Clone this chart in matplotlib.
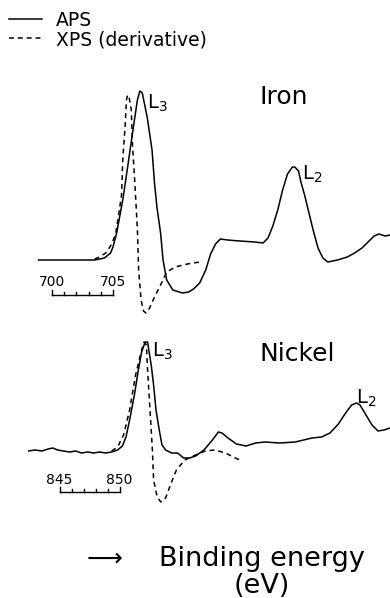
import matplotlib
matplotlib.use("Agg")
import matplotlib.pyplot as plt

# ---- Iron (energies in eV, intensity in arb. units, baseline = 0)
fe_aps_e = [698.9, 700.7, 702.3, 703.5, 704.3, 704.8, 705.0, 705.3, 705.8, 706.2,
            706.6, 707.0, 707.2, 707.4, 707.6, 707.8, 708.2, 708.4, 708.6, 708.9,
            709.1, 709.4, 709.9, 710.7, 711.2, 711.6, 712.1, 712.6, 713.0, 713.4,
            713.8, 714.4, 715.4, 716.6, 717.3, 717.7, 718.1, 718.5, 718.9, 719.3,
            719.7, 719.9, 720.2, 720.4, 720.7, 721.0, 721.4, 721.8, 722.2, 722.6,
            723.4, 724.2, 724.8, 725.4, 725.9, 726.4, 726.8, 727.3, 727.7]
fe_aps_i = [0, 0, 0, 0, 2, 7, 13, 27, 60, 93,
            127, 160, 169, 167, 155, 143, 110, 77, 53, 27,
            0, -20, -30, -33, -32, -29, -23, -10, 6, 16,
            21, 20, 19, 18, 17, 22, 34, 50, 70, 86,
            93, 93, 89, 78, 65, 50, 30, 12, 2, -2,
            0, 3, 7, 12, 18, 24, 26, 24, 25]

fe_xps_e = [703.5, 703.9, 704.4, 704.8, 705.2, 705.4, 705.7, 705.8, 706.0, 706.1,
            706.2, 706.3, 706.5, 706.6, 706.8, 707.0, 707.1, 707.3, 707.5, 707.7,
            708.0, 708.4, 708.9, 709.4, 710.1, 711.1, 712.1]
fe_xps_i = [1, 3, 7, 14, 25, 40, 65, 100, 135, 160,
            165, 164, 150, 115, 75, 30, -10, -40, -51, -53,
            -48, -37, -25, -12, -7, -4, -2]

# ---- Nickel
ni_aps_e = [842.4, 842.9, 843.5, 844.0, 844.4, 844.8, 845.3, 845.8, 846.3, 846.8,
            847.3, 847.8, 848.3, 848.8, 849.3, 849.8, 850.2, 850.5, 850.8, 851.2,
            851.5, 851.8, 852.1, 852.3, 852.4, 852.6, 852.8, 853.0, 853.3, 853.5,
            853.8, 854.3, 854.8, 855.3, 855.8, 856.3, 857.0, 857.7, 858.2, 858.5,
            859.0, 859.7, 860.5, 861.3, 862.1, 863.3, 864.6, 865.3, 866.0, 866.8,
            867.5, 868.2, 868.8, 869.3, 869.7, 870.0, 870.5, 871.0, 871.5, 872.0,
            872.5]
ni_aps_i = [0, 1, 0, 2, 3, 1, 0, -1, 0, -2,
            -1, -2, -1, -2, -1, 1, 5, 14, 31, 56,
            79, 99, 109, 109, 101, 86, 66, 41, 19, 6,
            1, -2, -2, -7, -7, -5, 1, 11, 19, 18,
            13, 7, 5, 8, 9, 8, 9, 11, 13, 14,
            18, 27, 38, 46, 48, 46, 36, 26, 20, 21,
            23]

ni_xps_e = [849.3, 849.8, 850.3, 850.8, 851.3, 851.8, 852.0, 852.2, 852.3, 852.5,
            852.7, 852.8, 853.1, 853.4, 853.8, 854.2, 854.7, 855.4, 856.3, 857.1,
            857.9, 858.8, 859.6, 860.0]
ni_xps_i = [0, 4, 16, 41, 76, 101, 109, 106, 81, 41,
            1, -29, -46, -51, -47, -34, -19, -9, -4, 0,
            1, -2, -7, -9]

fe_scale = [700, 701, 702, 703, 704, 705]
ni_scale = [845, 846, 847, 848, 849, 850]

W, H = 390, 598
fig = plt.figure(figsize=(W / 100, H / 100), dpi=100)

dash = (0, (3.2, 2.6))
lw = 1.1

# iron panel: covers pixel rows 60..320
ax1 = fig.add_axes([0, 1 - 320 / H, 1, 260 / H])
ax1.set_xlim(695.74, 727.70)
ax1.set_ylim(-60, 200)
ax1.axis("off")
l_aps, = ax1.plot(fe_aps_e, fe_aps_i, color="k", lw=lw)
l_xps, = ax1.plot(fe_xps_e, fe_xps_i, color="k", lw=lw, linestyle=dash)

# scale bar 700..705
ax1.plot([fe_scale[0], fe_scale[-1]], [-35, -35], color="k", lw=1.0)
for i, e in enumerate(fe_scale):
    top = -30 if i in (0, len(fe_scale) - 1) else -32
    ax1.plot([e, e], [-35, top], color="k", lw=1.0)
ax1.text(fe_scale[0], -22, "700", ha="center", va="center", fontsize=10)
ax1.text(fe_scale[-1], -22, "705", ha="center", va="center", fontsize=10)

ax1.text(719.0, 163, "Iron", ha="center", va="center", fontsize=18)
ax1.text(707.8, 157, "L$_3$", ha="left", va="center", fontsize=14)
ax1.text(720.5, 86, "L$_2$", ha="left", va="center", fontsize=14)

# nickel panel: covers pixel rows 320..520
ax2 = fig.add_axes([0, 1 - 520 / H, 1, 200 / H])
ax2.set_xlim(840, 872.5)
ax2.set_ylim(-69, 131)
ax2.axis("off")
ax2.plot(ni_aps_e, ni_aps_i, color="k", lw=lw)
ax2.plot(ni_xps_e, ni_xps_i, color="k", lw=lw, linestyle=dash)

ax2.plot([ni_scale[0], ni_scale[-1]], [-41, -41], color="k", lw=1.0)
for i, e in enumerate(ni_scale):
    top = -36 if i in (0, len(ni_scale) - 1) else -38
    ax2.plot([e, e], [-41, top], color="k", lw=1.0)
ax2.text(ni_scale[0] - 0.1, -29, "845", ha="center", va="center", fontsize=10)
ax2.text(ni_scale[-1] - 0.1, -29, "850", ha="center", va="center", fontsize=10)

ax2.text(864.75, 97, "Nickel", ha="center", va="center", fontsize=18)
ax2.text(852.7, 100, "L$_3$", ha="left", va="center", fontsize=14)
ax2.text(869.7, 53, "L$_2$", ha="left", va="center", fontsize=14)

# legend
fig.legend([l_aps, l_xps], ["APS", "XPS (derivative)"], loc="upper left",
           bbox_to_anchor=(9 / W, 1 - 11 / H), frameon=False, fontsize=13.5,
           handlelength=1.75, handletextpad=0.75, labelspacing=0.0,
           borderpad=0, borderaxespad=0)

# axis caption
fig.text(262 / W, 1 - 559 / H, "Binding energy", ha="center", va="center", fontsize=19.5)
fig.text(262 / W, 1 - 586 / H, "(eV)", ha="center", va="center", fontsize=19.5)
fig.text(104 / W, 1 - 559 / H, "\u27f6", ha="center", va="center", fontsize=18)

fig.savefig("out.png", dpi=100)
